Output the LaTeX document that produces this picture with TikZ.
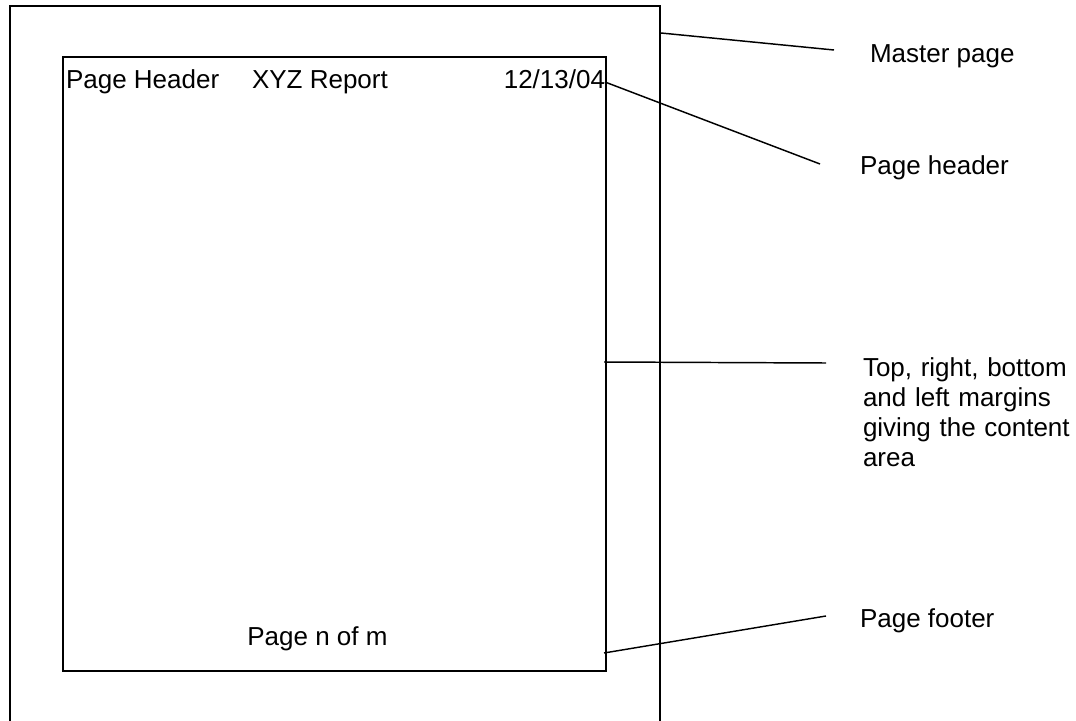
\documentclass[tikz,border=0pt]{standalone}
\usepackage{fontspec}
\setmainfont{Liberation Sans}
\begin{document}
\begin{tikzpicture}[x=0.75pt,y=-0.75pt,
  frame/.style={draw=black,line width=1.1pt},
  leader/.style={draw=black,line width=1.1pt},
  txt/.style={inner sep=0pt,outer sep=0pt,font=\fontsize{19.5}{22.5}\selectfont},
  callout/.style={txt,anchor=base west,align=left}]
\useasboundingbox (0,0) rectangle (1076,721);

% master page: open at the bottom
\draw[frame] (10,721) -- (10,6) -- (660,6) -- (660,721);
% content area inside the margins
\draw[frame] (63,57) rectangle (606,671);

% header and footer contents
\node[txt,anchor=base west] (hleft) at (66,88) {Page Header};
\node[txt,anchor=base west] (hmid) at (252,88) {XYZ Report};
\node[txt,anchor=base east] (hdate) at (605,88) {12/13/04};
\node[txt,anchor=base] (foot) at (317.5,645) {Page n of m};

% callout labels
\node[callout] (lmaster) at (870,62) {Master page};
\node[callout] (lheader) at (860,174) {Page header};
\node[callout,text width=220pt,
      font=\fontsize{19.5}{22.5}\selectfont] (lmargin) at (863,376)
  {Top, right, bottom\\and left margins\\giving the content\\area};
\node[callout] (lfooter) at (860,627) {Page footer};

% leader line end points
\coordinate (mA) at (661,33);   \coordinate (mB) at (834,50);
\coordinate (hA) at (605,82);   \coordinate (hB) at (820,164);
\coordinate (gA) at (604,362);  \coordinate (gB) at (826,363);
\coordinate (fA) at (604,653);  \coordinate (fB) at (826,616);

\draw[leader] (mA) -- (mB);
\draw[leader] (hA) -- (hB);
\draw[leader] (gA) -- (gB);
\draw[leader] (fA) -- (fB);
\end{tikzpicture}
\end{document}
